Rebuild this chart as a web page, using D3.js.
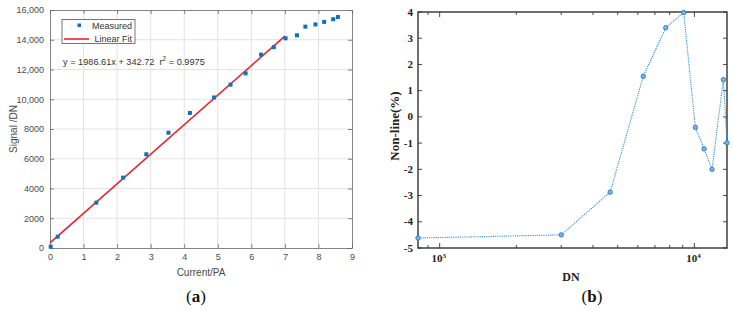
<!DOCTYPE html>
<html lang="en">
<head>
<meta charset="utf-8">
<title>Signal and non-linearity</title>
<script src="https://d3js.org/d3.v7.min.js"></script>
<style>
    body { margin: 0; background: #fff; }
    svg { display: block; }
    .sans { font-family: "Liberation Sans", Arial, sans-serif; }
    .serif { font-family: "Liberation Serif", "Times New Roman", serif; }
</style>
</head>
<body>
<svg id="chart" width="733" height="310"></svg>
<script>
    // (a) measured signal vs current
    var currentPA = [0.02, 0.23, 1.38, 2.18, 2.87, 3.53, 4.17, 4.89, 5.38, 5.83, 6.29, 6.67, 7.02, 7.36, 7.61, 7.91, 8.17, 8.44, 8.58];
    var signalDN = [90, 760, 3050, 4730, 6300, 7750, 9080, 10120, 10980, 11740, 13000, 13500, 14100, 14300, 14880, 15030, 15200, 15380, 15530];
    var fitSlope = 1986.61, fitIntercept = 342.72, fitEnd = 7.0;
    var xTicksA = [0, 1, 2, 3, 4, 5, 6, 7, 8, 9];
    var yTicksA = [0, 2000, 4000, 6000, 8000, 10000, 12000, 14000, 16000];

    // (b) non-linearity vs DN
    var dnValues = [822, 3000, 4670, 6300, 7720, 9080, 10090, 10920, 11730, 13000, 13430];
    var nonLine = [-4.62, -4.5, -2.87, 1.55, 3.4, 3.98, -0.4, -1.22, -2.0, 1.42, -0.99];
    var yTicksB = [-5, -4, -3, -2, -1, 0, 1, 2, 3, 4];

    var svg = d3.select("#chart");

    // ---------- panel (a) ----------
    var a = { left: 50, right: 352, top: 10, bottom: 248 };
    var xA = d3.scaleLinear().domain([0, 9]).range([a.left, a.right]);
    var yA = d3.scaleLinear().domain([0, 16000]).range([a.bottom, a.top]);
    var gA = svg.append("g").attr("class", "sans");

    // grid
    gA.append("g").selectAll("line").data(xTicksA.slice(1, -1)).join("line")
        .attr("x1", d => xA(d)).attr("x2", d => xA(d))
        .attr("y1", a.top).attr("y2", a.bottom)
        .attr("stroke", "#e3e3e3").attr("stroke-width", 1);
    gA.append("g").selectAll("line").data(yTicksA.slice(1, -1)).join("line")
        .attr("y1", d => yA(d)).attr("y2", d => yA(d))
        .attr("x1", a.left).attr("x2", a.right)
        .attr("stroke", "#e3e3e3").attr("stroke-width", 1);

    var fmtA = d => d >= 10000 ? d3.format(",")(d) : String(d);
    var axL = gA.append("g").attr("transform", `translate(${a.left},0)`)
        .call(d3.axisLeft(yA).tickValues(yTicksA).tickFormat(fmtA).tickSizeInner(-4).tickSizeOuter(0).tickPadding(6));
    var axB = gA.append("g").attr("transform", `translate(0,${a.bottom})`)
        .call(d3.axisBottom(xA).tickValues(xTicksA).tickSizeInner(-4).tickSizeOuter(0).tickPadding(6));
    var axR = gA.append("g").attr("transform", `translate(${a.right},0)`)
        .call(d3.axisRight(yA).tickValues(yTicksA).tickFormat("").tickSizeInner(-4).tickSizeOuter(0));
    var axT = gA.append("g").attr("transform", `translate(0,${a.top})`)
        .call(d3.axisTop(xA).tickValues(xTicksA).tickFormat("").tickSizeInner(-4).tickSizeOuter(0));
    [axL, axB, axR, axT].forEach(g => {
        g.selectAll("path").attr("stroke", "#666").attr("stroke-width", 0.8);
        g.selectAll("line").attr("stroke", "#666").attr("stroke-width", 0.8);
        g.selectAll("text").attr("fill", "#4a4a4a").attr("font-size", 9)
            .attr("font-family", "'Liberation Sans', Arial, sans-serif");
    });

    // fit line
    gA.append("line")
        .attr("x1", xA(0)).attr("y1", yA(fitIntercept))
        .attr("x2", xA(fitEnd)).attr("y2", yA(fitSlope * fitEnd + fitIntercept))
        .attr("stroke", "#e8222a").attr("stroke-width", 1.6);

    // measured points
    gA.append("g").selectAll("rect").data(currentPA).join("rect")
        .attr("x", (d, i) => xA(d) - 2).attr("y", (d, i) => yA(signalDN[i]) - 2)
        .attr("width", 4).attr("height", 4).attr("fill", "#0d72bd");

    // legend
    var lg = gA.append("g");
    lg.append("rect").attr("x", 62).attr("y", 19.5).attr("width", 73).attr("height", 24)
        .attr("fill", "#fff").attr("stroke", "#555").attr("stroke-width", 0.8);
    lg.append("rect").attr("x", 77.5).attr("y", 23.5).attr("width", 3.5).attr("height", 3.5).attr("fill", "#0d72bd");
    lg.append("line").attr("x1", 64).attr("x2", 89).attr("y1", 39).attr("y2", 39)
        .attr("stroke", "#e8222a").attr("stroke-width", 1.6);
    lg.append("text").attr("x", 132).attr("y", 29).attr("text-anchor", "end")
        .attr("font-size", 9).attr("fill", "#333").text("Measured");
    lg.append("text").attr("x", 132).attr("y", 41.5).attr("text-anchor", "end")
        .attr("font-size", 9).attr("fill", "#333").text("Linear Fit");

    // equation
    var eq = gA.append("text").attr("x", 63).attr("y", 64.5).attr("font-size", 9.2).attr("fill", "#333")
        .style("white-space", "pre");
    eq.append("tspan").text(`y = ${fitSlope}x + ${fitIntercept}  r`);
    eq.append("tspan").attr("dy", -4).attr("font-size", 6.5).text("2");
    eq.append("tspan").attr("dy", 4).text(" = 0.9975");

    // axis labels
    gA.append("text").attr("x", (a.left + a.right) / 2).attr("y", 276)
        .attr("text-anchor", "middle").attr("font-size", 10).attr("fill", "#4a4a4a").text("Current/PA");
    gA.append("text").attr("transform", "translate(17,129) rotate(-90)")
        .attr("text-anchor", "middle").attr("font-size", 10).attr("fill", "#4a4a4a").text("Signal /DN");

    var capA = svg.append("text").attr("class", "serif").attr("x", 196).attr("y", 302)
        .attr("text-anchor", "middle").attr("font-size", 17).attr("fill", "#111");
    capA.append("tspan").text("(");
    capA.append("tspan").attr("font-weight", "bold").text("a");
    capA.append("tspan").text(")");

    // ---------- panel (b) ----------
    var b = { left: 418, right: 727, top: 12, bottom: 248 };
    var xB = d3.scaleLog().domain([d3.min(dnValues), d3.max(dnValues)]).range([b.left, b.right]);
    var yB = d3.scaleLinear().domain([-5, 4]).range([b.bottom, b.top]);
    var gB = svg.append("g").attr("class", "serif");

    var majorB = [1000, 10000];
    var minorB = [];
    [100, 1000, 10000].forEach(p => d3.range(2, 10).forEach(k => {
        var v = k * p;
        if (v >= xB.domain()[0] && v <= xB.domain()[1]) minorB.push(v);
    }));

    // ticks, inward on all four sides
    var tk = gB.append("g").attr("stroke", "#333").attr("stroke-width", 0.9);
    tk.selectAll(".ly").data(yTicksB).join("line").attr("class", "ly")
        .attr("x1", b.left).attr("x2", b.left + 4).attr("y1", d => yB(d)).attr("y2", d => yB(d));
    tk.selectAll(".ry").data(yTicksB).join("line").attr("class", "ry")
        .attr("x1", b.right).attr("x2", b.right - 4).attr("y1", d => yB(d)).attr("y2", d => yB(d));
    [[b.bottom, -1], [b.top, 1]].forEach(([y0, s]) => {
        tk.append("g").selectAll("line").data(majorB).join("line")
            .attr("x1", d => xB(d)).attr("x2", d => xB(d)).attr("y1", y0).attr("y2", y0 + s * 5);
        tk.append("g").selectAll("line").data(minorB).join("line")
            .attr("x1", d => xB(d)).attr("x2", d => xB(d)).attr("y1", y0).attr("y2", y0 + s * 3);
    });

    // box
    gB.append("rect").attr("x", b.left).attr("y", b.top)
        .attr("width", b.right - b.left).attr("height", b.bottom - b.top)
        .attr("fill", "none").attr("stroke", "#333").attr("stroke-width", 1.4);

    // tick labels
    gB.append("g").selectAll("text").data(yTicksB).join("text")
        .attr("x", b.left - 5).attr("y", d => yB(d) + 3.5)
        .attr("text-anchor", "end").attr("font-size", 11).attr("font-weight", "bold").attr("fill", "#222")
        .text(d => d);
    var xl = gB.append("g").selectAll("text").data(majorB).join("text")
        .attr("x", d => xB(d) - 1).attr("y", 262)
        .attr("text-anchor", "middle").attr("font-size", 11).attr("font-weight", "bold").attr("fill", "#222");
    xl.append("tspan").text("10");
    xl.append("tspan").attr("dy", -4).attr("font-size", 7).text(d => Math.round(Math.log10(d)));

    // data line and markers
    var pts = dnValues.map((d, i) => [d, nonLine[i]]);
    gB.append("path").datum(pts)
        .attr("d", d3.line().x(d => xB(d[0])).y(d => yB(d[1])))
        .attr("fill", "none").attr("stroke", "#3b8edb").attr("stroke-width", 1.1)
        .attr("stroke-dasharray", "1.2,1");
    gB.append("g").selectAll("circle").data(pts).join("circle")
        .attr("cx", d => xB(d[0])).attr("cy", d => yB(d[1])).attr("r", 2.2)
        .attr("fill", "#7db5e8").attr("stroke", "#2a7fd0").attr("stroke-width", 1);

    // axis labels
    gB.append("text").attr("x", 571).attr("y", 281)
        .attr("text-anchor", "middle").attr("font-size", 12).attr("font-weight", "bold").attr("fill", "#222").text("DN");
    gB.append("text").attr("transform", "translate(399,126) rotate(-90)")
        .attr("text-anchor", "middle").attr("font-size", 13).attr("font-weight", "bold").attr("fill", "#222").text("Non-line(%)");

    var capB = svg.append("text").attr("class", "serif").attr("x", 592).attr("y", 302)
        .attr("text-anchor", "middle").attr("font-size", 17).attr("fill", "#111");
    capB.append("tspan").text("(");
    capB.append("tspan").attr("font-weight", "bold").text("b");
    capB.append("tspan").text(")");
</script>
</body>
</html>
